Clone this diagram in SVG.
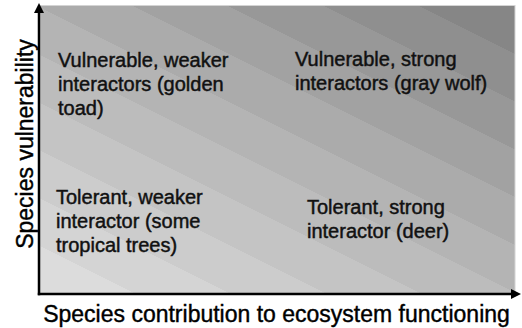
<svg xmlns="http://www.w3.org/2000/svg" width="522" height="328" viewBox="0 0 522 328">
  <style>
    .lbl { font-family: "Liberation Sans", Arial, sans-serif; font-size: 20px; fill: #111; stroke: #111; stroke-width: 0.45; }
    .axis-title { font-family: "Liberation Sans", Arial, sans-serif; font-size: 23px; fill: #000; stroke: #000; stroke-width: 0.4; }
    .axis { stroke: #000; stroke-width: 2.5; fill: none; }
  </style>
  <defs>
    <!-- stepped diagonal shading: light at lower left, dark at upper right -->
    <linearGradient id="shade" gradientUnits="userSpaceOnUse" x1="40" y1="294" x2="250.2" y2="-126.4">
      <stop offset="0" stop-color="#dcdcdc"/><stop offset="0.0909" stop-color="#dcdcdc"/>
      <stop offset="0.0909" stop-color="#d4d4d4"/><stop offset="0.1818" stop-color="#d4d4d4"/>
      <stop offset="0.1818" stop-color="#cccccc"/><stop offset="0.2727" stop-color="#cccccc"/>
      <stop offset="0.2727" stop-color="#c4c4c4"/><stop offset="0.3636" stop-color="#c4c4c4"/>
      <stop offset="0.3636" stop-color="#bcbcbc"/><stop offset="0.4545" stop-color="#bcbcbc"/>
      <stop offset="0.4545" stop-color="#b4b4b4"/><stop offset="0.5455" stop-color="#b4b4b4"/>
      <stop offset="0.5455" stop-color="#ababab"/><stop offset="0.6364" stop-color="#ababab"/>
      <stop offset="0.6364" stop-color="#a2a2a2"/><stop offset="0.7273" stop-color="#a2a2a2"/>
      <stop offset="0.7273" stop-color="#989898"/><stop offset="0.8182" stop-color="#989898"/>
      <stop offset="0.8182" stop-color="#8f8f8f"/><stop offset="0.9091" stop-color="#8f8f8f"/>
      <stop offset="0.9091" stop-color="#868686"/><stop offset="1" stop-color="#868686"/>
    </linearGradient>
    <marker id="arrow" markerUnits="userSpaceOnUse" markerWidth="10" markerHeight="10" viewBox="0 0 10 10" refX="1" refY="5" orient="auto">
      <path d="M0,0 L10,5 L0,10 z" fill="#000"/>
    </marker>
  </defs>

  <!-- plot area -->
  <rect id="plot-area" x="40" y="5.5" width="475" height="288.5" fill="url(#shade)" stroke="#d4d4d4" stroke-width="1"/>

  <!-- axes -->
  <g id="connectors">
    <line class="axis" x1="39" y1="295.2" x2="39" y2="12" marker-end="url(#arrow)"/>
    <line class="axis" x1="37.8" y1="294" x2="512" y2="294" marker-end="url(#arrow)"/>
  </g>

  <!-- quadrant labels -->
  <g id="vulnerable-weaker">
    <text class="lbl" x="58" y="67">Vulnerable, weaker</text>
    <text class="lbl" x="58" y="91">interactors (golden</text>
    <text class="lbl" x="58" y="115">toad)</text>
  </g>
  <g id="vulnerable-strong">
    <text class="lbl" x="295" y="66">Vulnerable, strong</text>
    <text class="lbl" x="295" y="90">interactors (gray wolf)</text>
  </g>
  <g id="tolerant-weaker">
    <text class="lbl" x="56" y="204">Tolerant, weaker</text>
    <text class="lbl" x="56" y="228">interactor (some</text>
    <text class="lbl" x="56" y="252">tropical trees)</text>
  </g>
  <g id="tolerant-strong">
    <text class="lbl" x="307" y="214">Tolerant, strong</text>
    <text class="lbl" x="307" y="238">interactor (deer)</text>
  </g>

  <!-- axis titles -->
  <g id="x-title">
    <text class="axis-title" x="276.5" y="322" text-anchor="middle">Species contribution to ecosystem functioning</text>
  </g>
  <g id="y-title">
    <text class="axis-title" transform="translate(33,144) rotate(-90)" text-anchor="middle">Species vulnerability</text>
  </g>
</svg>
